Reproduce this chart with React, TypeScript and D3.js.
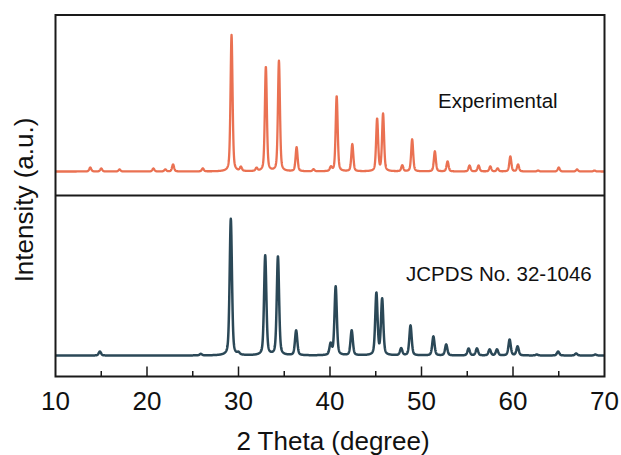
import React from "react";
import * as d3 from "d3";

// ---- data ----
const xMajorTicks = [10, 20, 30, 40, 50, 60, 70];
const xMinorTicks = [15, 25, 35, 45, 55, 65];

// Experimental pattern: peak positions (2θ) and relative intensities
const expPos = [13.8, 15.0, 17.0, 20.7, 22.0, 22.85, 26.1, 29.24, 30.26, 31.97, 32.99, 34.42, 36.35, 38.2, 40.1, 40.73, 42.44, 45.15, 45.8, 47.9, 48.98, 51.46, 52.85, 55.25, 56.24, 57.52, 58.32, 59.71, 60.55, 62.74, 65.0, 67.0, 68.9];
const expInt = [29, 22, 15, 22, 15, 51, 22, 1000, 29, 22, 765, 809, 176, 15, 29, 551, 199, 382, 419, 44, 235, 147, 74, 44, 44, 37, 22, 110, 51, 7, 29, 15, 7];

// JCPDS No. 32-1046 reference pattern
const refPos = [14.85, 25.88, 29.16, 30.0, 32.92, 34.31, 36.3, 40.07, 40.62, 42.37, 45.07, 45.7, 47.78, 48.8, 51.3, 52.7, 55.15, 56.06, 57.45, 58.25, 59.63, 60.5, 62.6, 64.93, 66.9, 69.0];
const refInt = [29, 11, 1000, 15, 730, 723, 182, 80, 504, 182, 453, 409, 51, 219, 139, 80, 51, 51, 44, 44, 117, 66, 7, 29, 15, 7];

const seriesLabels = ["Experimental", "JCPDS No. 32-1046"];
const seriesColors = ["#EA7152", "#2B4857"];

// ---- layout ----
const W = 621;
const H = 455;
const left = 55.5;
const right = 604.5;
const top = 15;
const mid = 195.5;
const bottom = 376.5;

function pv(x: number, x0: number, fwhm: number, eta: number) {
  const t = (x - x0) / (fwhm / 2);
  const L = 1 / (1 + t * t);
  const G = Math.exp(-Math.LN2 * t * t);
  return eta * L + (1 - eta) * G;
}

function pattern(pos: number[], ints: number[], fwhm: number, eta: number) {
  const xs = d3.range(10, 70.0001, 0.02);
  return xs.map((x) => {
    let s = 0;
    for (let i = 0; i < pos.length; i++) s += ints[i] * pv(x, pos[i], fwhm, eta);
    return [x, s] as [number, number];
  });
}

export default function App() {
  const x = d3.scaleLinear().domain([10, 70]).range([left, right]);
  const yTop = d3.scaleLinear().domain([0, 1000]).range([171.5, 35]);
  const yBot = d3.scaleLinear().domain([0, 1000]).range([355.5, 219]);

  const expData = pattern(expPos, expInt, 0.26, 0.4);
  const refData = pattern(refPos, refInt, 0.3, 0.4);

  const lineTop = d3
    .line<[number, number]>()
    .x((d) => x(d[0]))
    .y((d) => yTop(d[1]));
  const lineBot = d3
    .line<[number, number]>()
    .x((d) => x(d[0]))
    .y((d) => yBot(d[1]));

  const font = "'Liberation Sans', Arial, sans-serif";

  return (
    <svg width={W} height={H} style={{ position: "absolute", left: 0, top: 0 }}>
      <rect x={0} y={0} width={W} height={H} fill="#fff" />
      <path d={lineTop(expData) || ""} fill="none" stroke={seriesColors[0]} strokeWidth={2.3} strokeLinejoin="round" />
      <path d={lineBot(refData) || ""} fill="none" stroke={seriesColors[1]} strokeWidth={2.5} strokeLinejoin="round" />

      {/* frame */}
      <rect x={left} y={top} width={right - left} height={bottom - top} fill="none" stroke="#1a1a1a" strokeWidth={2} />
      <line x1={left} x2={right} y1={mid} y2={mid} stroke="#1a1a1a" strokeWidth={2} />

      {/* ticks */}
      {xMajorTicks.slice(1, -1).map((t) => (
        <line key={"M" + t} x1={x(t)} x2={x(t)} y1={bottom} y2={bottom - 10} stroke="#1a1a1a" strokeWidth={1.5} />
      ))}
      {xMinorTicks.map((t) => (
        <line key={"m" + t} x1={x(t)} x2={x(t)} y1={bottom} y2={bottom - 5.5} stroke="#1a1a1a" strokeWidth={1.5} />
      ))}
      {xMajorTicks.map((t) => (
        <text key={"l" + t} x={x(t)} y={409.5} textAnchor="middle" fontFamily={font} fontSize={26} fill="#111">
          {t}
        </text>
      ))}

      <text x={333} y={450} textAnchor="middle" fontFamily={font} fontSize={26} fill="#111">
        2 Theta (degree)
      </text>
      <text
        transform={`translate(33,200) rotate(-90)`}
        textAnchor="middle"
        fontFamily={font}
        fontSize={26}
        fill="#111"
      >
        Intensity (a.u.)
      </text>

      <text x={438} y={108} fontFamily={font} fontSize={20.5} fill="#111">
        {seriesLabels[0]}
      </text>
      <text x={406} y={281} fontFamily={font} fontSize={20.5} fill="#111">
        {seriesLabels[1]}
      </text>
    </svg>
  );
}
